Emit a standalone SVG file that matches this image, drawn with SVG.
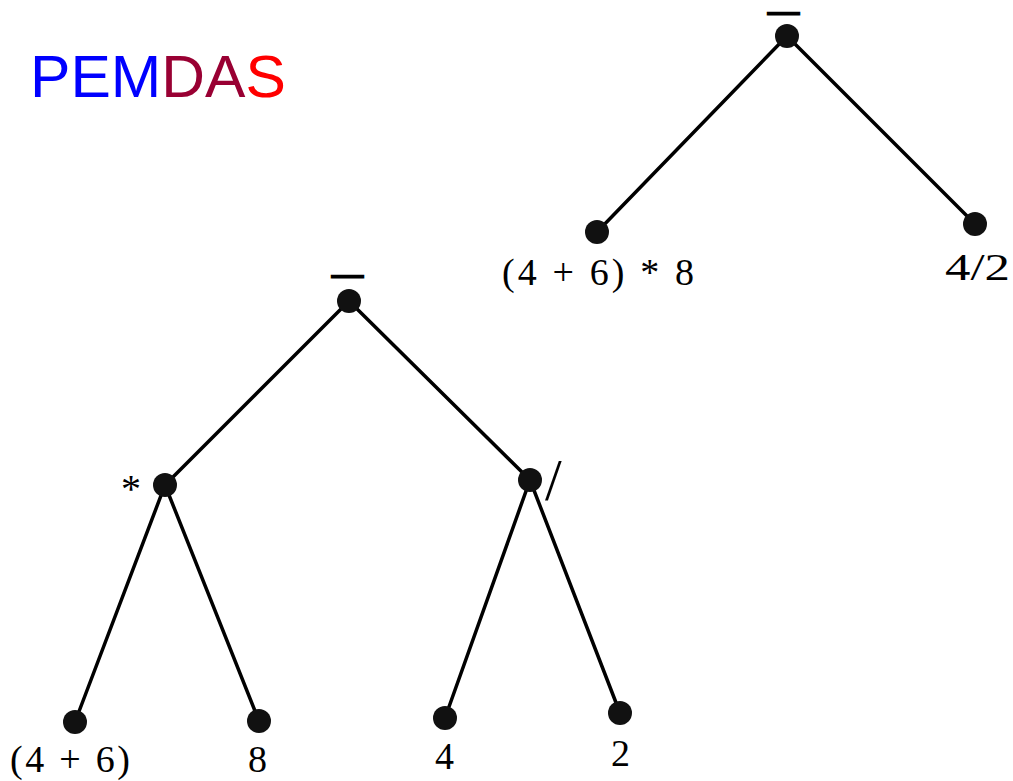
<svg xmlns="http://www.w3.org/2000/svg" width="1013" height="781" viewBox="0 0 1013 781">
<style>
.edge{stroke:#000;stroke-width:3.5;fill:none;stroke-linecap:round}
.node{fill:#111}
.lbl{font-family:"Liberation Serif","DejaVu Serif",serif;font-size:38px;fill:#000}
.op{font-family:"Liberation Serif","DejaVu Serif",serif;font-size:20px;fill:#000;stroke:#000;stroke-width:2.8}
</style>
<rect width="1013" height="781" fill="#fff"/>
<text id="title" x="30" y="97" font-family="Liberation Sans, Arial, sans-serif" font-size="60" textLength="256" lengthAdjust="spacingAndGlyphs"><tspan fill="#0000FF">PEM</tspan><tspan fill="#990033">DA</tspan><tspan fill="#FF0000">S</tspan></text>
<g id="connectors">
<line class="edge" x1="787" y1="36" x2="597" y2="232"/>
<line class="edge" x1="787" y1="36" x2="975" y2="224"/>
<line class="edge" x1="349" y1="301" x2="165" y2="485"/>
<line class="edge" x1="349" y1="301" x2="530" y2="480"/>
<line class="edge" x1="165" y1="485" x2="75" y2="722"/>
<line class="edge" x1="165" y1="485" x2="259" y2="721"/>
<line class="edge" x1="530" y1="480" x2="445" y2="718"/>
<line class="edge" x1="530" y1="480" x2="620" y2="713"/>
</g>
<g id="top-root"><circle class="node" cx="787" cy="36" r="12"/><text class="op" x="769" y="19" textLength="29" lengthAdjust="spacingAndGlyphs">—</text></g>
<g id="top-left"><circle class="node" cx="597" cy="232" r="12"/><text class="lbl" x="502" y="285" textLength="192" lengthAdjust="spacing">(4 + 6) * 8</text></g>
<g id="top-right"><circle class="node" cx="975" cy="224" r="12"/><text class="lbl" x="945" y="280" textLength="65" lengthAdjust="spacingAndGlyphs">4/2</text></g>
<g id="root"><circle class="node" cx="349" cy="301" r="12"/><text class="op" x="333" y="282" textLength="29" lengthAdjust="spacingAndGlyphs">—</text></g>
<g id="mul"><circle class="node" cx="165" cy="485" r="12"/><text class="lbl" x="121" y="502" style="font-size:40px">*</text></g>
<g id="div"><circle class="node" cx="530" cy="480" r="12"/><text class="lbl" x="545" y="500" style="font-size:60px">/</text></g>
<g id="leaf-46"><circle class="node" cx="75" cy="722" r="12"/><text class="lbl" x="10" y="772" textLength="120" lengthAdjust="spacing">(4 + 6)</text></g>
<g id="leaf-8"><circle class="node" cx="259" cy="721" r="12"/><text class="lbl" x="248" y="772">8</text></g>
<g id="leaf-4"><circle class="node" cx="445" cy="718" r="12"/><text class="lbl" x="435" y="769">4</text></g>
<g id="leaf-2"><circle class="node" cx="620" cy="713" r="12"/><text class="lbl" x="611" y="766">2</text></g>
</svg>
